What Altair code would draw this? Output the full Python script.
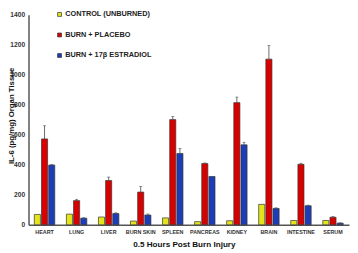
import altair as alt
import pandas as pd

categories = ["HEART", "LUNG", "LIVER", "BURN SKIN", "SPLEEN", "PANCREAS",
              "KIDNEY", "BRAIN", "INTESTINE", "SERUM"]
series = ["CONTROL (UNBURNED)", "BURN + PLACEBO", "BURN + 17β ESTRADIOL"]
colors = ["#e4e41a", "#d90000", "#1d3db8"]

control = [69, 71, 52, 25, 46, 21, 27, 136, 29, 29]
placebo = [572, 161, 295, 218, 701, 408, 814, 1104, 403, 50]
estradiol = [398, 44, 75, 65, 475, 322, 533, 109, 127, 11]

control_err = [0, 0, 0, 0, 0, 0, 0, 0, 0, 0]
placebo_err = [88, 9, 23, 37, 21, 4, 37, 90, 7, 5]
estradiol_err = [4, 3, 5, 7, 33, 0, 17, 4, 4, 2]

y_ticks = [0, 200, 400, 600, 800, 1000, 1200, 1400]

rows = []
for s, vals, errs in zip(series, [control, placebo, estradiol],
                         [control_err, placebo_err, estradiol_err]):
    for c, v, e in zip(categories, vals, errs):
        rows.append({"organ": c, "group": s, "value": v, "top": v + e, "err": e})
df = pd.DataFrame(rows)

FONT = "Liberation Sans"

x_axis = alt.Axis(title="0.5 Hours Post Burn Injury", labelAngle=0,
                  labelFont=FONT, labelFontWeight="bold", labelFontSize=5.5,
                  labelColor="#333", labelPadding=5, ticks=False, tickSize=0,
                  labelOverlap=False,
                  domainColor="#555", domainWidth=1.5,
                  titleFont=FONT, titleFontWeight="bold", titleFontSize=8.3,
                  titleColor="#111", titleX=159, titleY=22,
                  titleBaseline="alphabetic")
x_scale = alt.Scale(paddingInner=0.34, paddingOuter=0.17)
y_axis = alt.Axis(title="IL-6 (pg/mg) Organ Tissue", values=y_ticks, format="d",
                  labelOverlap=False,
                  grid=False, ticks=False, tickSize=0, labelPadding=4,
                  labelFont=FONT, labelFontWeight="bold", labelFontSize=6.8,
                  labelColor="#333", domainColor="#555", domainWidth=1.5,
                  titleFont=FONT, titleFontWeight="bold", titleFontSize=8,
                  titleColor="#111", titleX=-13, titleY=103, titleAngle=270,
                  titleBaseline="bottom", titleAlign="center")
y_scale = alt.Scale(domain=[0, 1400], nice=False)

x_enc = alt.X("organ:N", sort=categories, scale=x_scale, axis=x_axis)
xo_enc = alt.XOffset("group:N", sort=series,
                     scale=alt.Scale(paddingInner=0.15, paddingOuter=0.05))

bars = alt.Chart(df).mark_bar(stroke="#333", strokeWidth=0.7).encode(
    x=x_enc,
    xOffset=xo_enc,
    y=alt.Y("value:Q", scale=y_scale, axis=y_axis),
    color=alt.Color("group:N", sort=series,
                    scale=alt.Scale(domain=series, range=colors),
                    legend=alt.Legend(title=None, orient="none", legendX=28, legendY=-4,
                                      symbolType="square", symbolSize=16,
                                      symbolStrokeColor="#333", symbolStrokeWidth=0.7,
                                      labelFont=FONT, labelFontWeight="bold",
                                      labelFontSize=7.5, labelColor="#222",
                                      labelOffset=2, rowPadding=12, padding=0)),
)

err_df = df[df["err"] > 0]
rules = alt.Chart(err_df).mark_rule(color="#444", strokeWidth=0.8).encode(
    x=x_enc,
    xOffset=xo_enc,
    y=alt.Y("value:Q", scale=y_scale, axis=y_axis),
    y2="top:Q",
)
caps = alt.Chart(err_df).mark_tick(color="#444", thickness=0.8, size=3).encode(
    x=x_enc,
    xOffset=xo_enc,
    y=alt.Y("top:Q", scale=y_scale, axis=y_axis),
)

chart = alt.layer(bars, rules, caps).properties(
    width=328, height=215,
    padding={"left": 21, "top": 4, "right": 1, "bottom": 26},
    autosize=alt.AutoSizeParams(type="none"),
    background="white",
).configure_view(stroke=None)

chart.save("out.html", embed_options={"renderer": "svg", "actions": False})
